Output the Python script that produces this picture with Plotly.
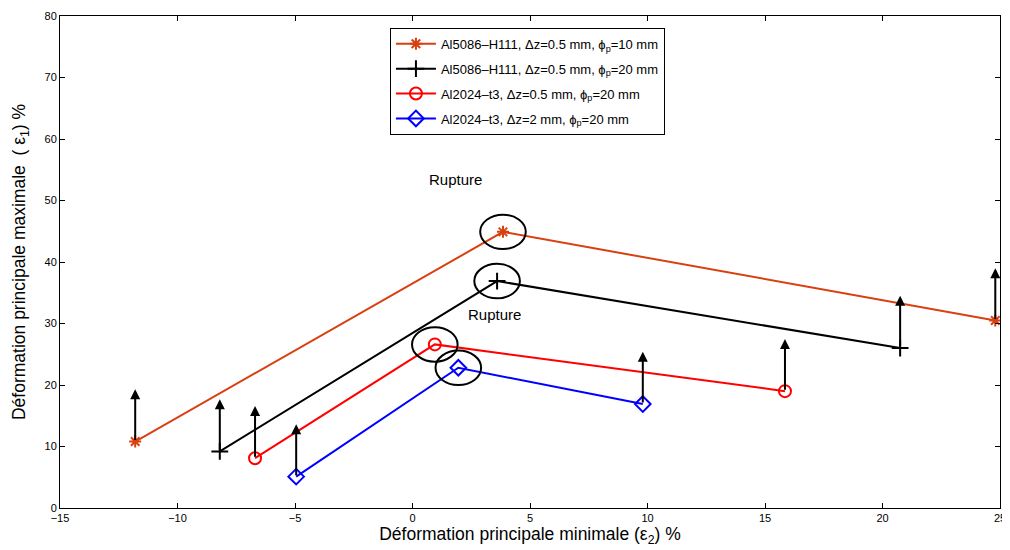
import plotly.graph_objects as go

# Data (ε2, ε1) in %
names = [
    "Al5086–H111, Δz=0.5 mm, ϕ<sub>p</sub>=10 mm",
    "Al5086–H111, Δz=0.5 mm, ϕ<sub>p</sub>=20 mm",
    "Al2024–t3, Δz=0.5 mm, ϕ<sub>p</sub>=20 mm",
    "Al2024–t3, Δz=2 mm, ϕ<sub>p</sub>=20 mm",
]
eps2_a = [-11.8, 3.85, 24.8]
eps1_a = [10.8, 44.9, 30.5]
eps2_b = [-8.2, 3.6, 20.75]
eps1_b = [9.2, 36.9, 26.0]
eps2_c = [-6.7, 0.95, 15.85]
eps1_c = [8.1, 26.6, 19.0]
eps2_d = [-4.95, 1.95, 9.8]
eps1_d = [5.1, 22.8, 16.9]

xs = [eps2_a, eps2_b, eps2_c, eps2_d]
ys = [eps1_a, eps1_b, eps1_c, eps1_d]
colors = ["#D9400F", "#000000", "#FF0000", "#0000FF"]
symbols = ["asterisk-open", "cross-thin-open", "circle-open", "diamond-open"]
sizes = [10, 12, 12, 12]

rupture_labels = ["Rupture", "Rupture"]
rupture_x = [1.83, 3.5]
rupture_y = [53.4, 31.5]

fig = go.Figure()
for k, (n, x, y, c, s, sz) in enumerate(zip(names, xs, ys, colors, symbols, sizes)):
    fig.add_trace(go.Scatter(
        x=x, y=y, name=n, mode="lines+markers", legendgroup=f"g{k}",
        line=dict(color=c, width=2),
        marker=dict(symbol=s, size=sz, color=c, line=dict(color=c, width=2)),
    ))

# Ellipses around the rupture (peak) points
for x, y in zip(xs, ys):
    cx, cy = x[1], y[1]
    fig.add_shape(type="circle", xref="x", yref="y",
                  x0=cx - 0.97, x1=cx + 0.97, y0=cy - 2.8, y1=cy + 2.8,
                  line=dict(color="black", width=2))

# Vertical arrows at the extreme points
arrow_len = 8.5
for x, y in zip(xs, ys):
    for i in (0, 2):
        fig.add_annotation(x=x[i], y=y[i] + arrow_len, ax=x[i], ay=y[i],
                           xref="x", yref="y", axref="x", ayref="y",
                           text="", showarrow=True, arrowhead=2, arrowsize=1,
                           arrowwidth=2, arrowcolor="black")

for t, x, y in zip(rupture_labels, rupture_x, rupture_y):
    fig.add_annotation(x=x, y=y, text=t, showarrow=False, xref="x", yref="y",
                       font=dict(size=15, color="black"))

fig.update_layout(
    width=1002, height=542,
    paper_bgcolor="white", plot_bgcolor="white",
    margin=dict(l=52, r=10, t=8, b=42),
    font=dict(family="Liberation Sans, Arial, sans-serif", size=12, color="black"),
    showlegend=True,
    legend=dict(x=0.351, y=0.976, xanchor="left", yanchor="top",
                bordercolor="black", borderwidth=1, bgcolor="white",
                font=dict(size=13), tracegroupgap=5, itemwidth=40),
)
fig.update_xaxes(range=[-15, 25], dtick=5, tick0=-15, showgrid=False, zeroline=False,
                 showline=True, linecolor="black", linewidth=1, mirror="ticks",
                 ticks="inside", ticklen=5, tickcolor="black", automargin=False,
                 tickfont=dict(size=11),
                 title=dict(text="Déformation principale minimale (ε<sub>2</sub>) %",
                            font=dict(size=17.5), standoff=3))
fig.update_yaxes(range=[0, 80], dtick=10, showgrid=False, zeroline=False,
                 showline=True, linecolor="black", linewidth=1, mirror="ticks",
                 ticks="inside", ticklen=5, tickcolor="black", automargin=False,
                 tickfont=dict(size=11),
                 title=dict(text="Déformation principale maximale  ( ε<sub>1</sub>) %",
                            font=dict(size=17.5), standoff=14))

fig.write_html("out.html")
